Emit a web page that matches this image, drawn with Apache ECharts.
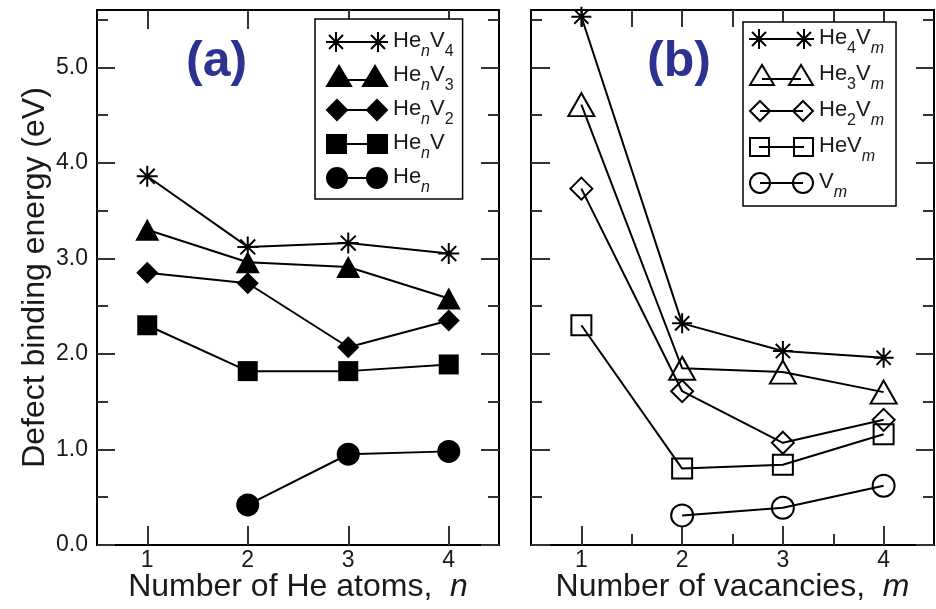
<!DOCTYPE html>
<html>
<head>
<meta charset="utf-8">
<script src="https://cdn.jsdelivr.net/npm/echarts@6/dist/echarts.min.js"></script>
<style>
  html, body { margin: 0; padding: 0; background: #fff; }
  #chart { width: 936px; height: 609px; }
</style>
</head>
<body>
<div id="chart"></div>
<script>
// Shared axis positions
const heAtoms = [1, 2, 3, 4];
const vacancies = [1, 2, 3, 4];
const yTicks = [0, 1, 2, 3, 4, 5];
const yMinorTicks = [0.5, 1.5, 2.5, 3.5, 4.5, 5.5];
const xMinorTicks = [1.5, 2.5, 3.5];
const xTopTicksB = [1, 1.5, 2, 2.5, 3, 3.5, 4];

// (a) binding energy vs number of He atoms n
const heNV4 = [3.86, 3.12, 3.16, 3.05];
const heNV3 = [3.30, 2.96, 2.91, 2.58];
const heNV2 = [2.85, 2.74, 2.07, 2.35];
const heNV1 = [2.30, 1.82, 1.82, 1.89];
const heN   = [null, 0.42, 0.95, 0.98];

// (b) binding energy vs number of vacancies m
const he4Vm = [5.53, 2.32, 2.03, 1.96];
const he3Vm = [4.61, 1.85, 1.81, 1.60];
const he2Vm = [3.73, 1.61, 1.07, 1.31];
const he1Vm = [2.30, 0.80, 0.84, 1.16];
const vM    = [null, 0.31, 0.39, 0.62];

// Series names and their legend labels (rich text subscripts)
const namesA  = ['HenV4', 'HenV3', 'HenV2', 'HenV', 'Hen'];
const labelsA = ['{t|He}{i|n}{t|V}{d|4}', '{t|He}{i|n}{t|V}{d|3}', '{t|He}{i|n}{t|V}{d|2}', '{t|He}{i|n}{t|V}', '{t|He}{i|n}'];
const namesB  = ['He4Vm', 'He3Vm', 'He2Vm', 'HeVm', 'Vm'];
const labelsB = ['{t|He}{d|4}{t|V}{i|m}', '{t|He}{d|3}{t|V}{i|m}', '{t|He}{d|2}{t|V}{i|m}', '{t|HeV}{i|m}', '{t|V}{i|m}'];

const FONT = '"Liberation Sans", Arial, Helvetica, sans-serif';
const STAR = 'path://M0 10L20 10M10 0L10 20M2.9 2.9L17.1 17.1M17.1 2.9L2.9 17.1';

// Legend icons: two markers joined by a line
function starPair(w) {
  const a = 10, b = w - 10;
  return 'path://M0 0M' + w + ' 22' +
    'M0 11L20 11M10 1L10 21M3 4L17 18M17 4L3 18' +
    'M' + (b - 10) + ' 11L' + (b + 10) + ' 11M' + b + ' 1L' + b + ' 21M' + (b - 7) + ' 4L' + (b + 7) + ' 18M' + (b + 7) + ' 4L' + (b - 7) + ' 18' +
    'M' + a + ' 11L' + b + ' 11';
}
function triPair(w) {
  return 'path://M0 0M' + w + ' 22' +
    'M1 21L13 1L25 21Z' +
    'M' + (w - 25) + ' 21L' + (w - 13) + ' 1L' + (w - 1) + ' 21Z' +
    'M13 15L' + (w - 13) + ' 15';
}
function diaPair(w) {
  return 'path://M0 0M' + w + ' 22' +
    'M1 11L11 1L21 11L11 21Z' +
    'M' + (w - 21) + ' 11L' + (w - 11) + ' 1L' + (w - 1) + ' 11L' + (w - 11) + ' 21Z' +
    'M11 11L' + (w - 11) + ' 11';
}
function sqPair(w) {
  return 'path://M0 0M' + w + ' 22' +
    'M1 2H20V20H1Z' +
    'M' + (w - 20) + ' 2H' + (w - 1) + 'V20H' + (w - 20) + 'Z' +
    'M10 11L' + (w - 10) + ' 11';
}
function circPair(w) {
  return 'path://M0 0M' + w + ' 22' +
    'M1 11A10 10 0 1 1 21 11A10 10 0 1 1 1 11Z' +
    'M' + (w - 21) + ' 11A10 10 0 1 1 ' + (w - 1) + ' 11A10 10 0 1 1 ' + (w - 21) + ' 11Z' +
    'M11 11L' + (w - 11) + ' 11';
}

const iconW_A = 62, iconW_B = 65;
const iconsA = [starPair(iconW_A), triPair(iconW_A), diaPair(iconW_A), sqPair(iconW_A), circPair(iconW_A)];
const iconsB = [starPair(iconW_B), triPair(iconW_B), diaPair(iconW_B), sqPair(iconW_B), circPair(iconW_B)];

const symbolsA = [STAR, 'triangle', 'diamond', 'rect', 'circle'];
const sizesA = [21, [24, 22], 22, 20, 23];
const symbolsB = [STAR, 'triangle', 'diamond', 'rect', 'circle'];
const sizesB = [20, [26, 23], 22, 20, 22];

function pts(xs, ys) {
  return xs.map((x, i) => (ys[i] == null ? null : [x, ys[i]])).filter(Boolean);
}

const filled = { color: '#000', borderColor: '#000', borderWidth: 0 };
const starStyle = { color: '#000', borderColor: '#000', borderWidth: 2 };
const hollow = { color: 'rgba(0,0,0,0)', borderColor: '#000', borderWidth: 2 };

const seriesA = [heNV4, heNV3, heNV2, heNV1, heN].map((ys, k) => ({
  name: namesA[k], type: 'line', xAxisIndex: 0, yAxisIndex: 0,
  data: pts(heAtoms, ys), symbol: symbolsA[k], symbolSize: sizesA[k],
  itemStyle: k === 0 ? starStyle : filled,
  lineStyle: { color: '#000', width: 2 }, z: 3
}));
const seriesB = [he4Vm, he3Vm, he2Vm, he1Vm, vM].map((ys, k) => ({
  name: namesB[k], type: 'line', xAxisIndex: 2, yAxisIndex: 4,
  data: pts(vacancies, ys), symbol: symbolsB[k], symbolSize: sizesB[k],
  itemStyle: k === 0 ? starStyle : hollow,
  lineStyle: { color: '#000', width: 2 }, z: 3
}));

const axisLine = { show: true, onZero: false, lineStyle: { color: '#000', width: 2 } };
const tickLine = { color: '#333', width: 2 };
const tickFont = { fontFamily: FONT, fontSize: 23, color: '#1a1a1a' };
const nameFont = { fontFamily: FONT, fontSize: 32, color: '#1a1a1a',
  rich: { i: { fontFamily: FONT, fontSize: 32, fontStyle: 'italic', color: '#1a1a1a' } } };

function xAxisDef(grid, pos, ticks, len, labels, name) {
  return {
    gridIndex: grid, type: 'value', min: 0.5, max: 4.5, position: pos,
    axisLine: axisLine,
    axisTick: { show: true, inside: true, length: len, customValues: ticks, lineStyle: tickLine },
    axisLabel: labels ? Object.assign({ customValues: labels, margin: 4 }, tickFont) : { show: false },
    splitLine: { show: false },
    name: name || '', nameLocation: 'middle', nameGap: 26, nameMoveOverlap: false,
    nameTextStyle: nameFont
  };
}
function yAxisDef(grid, pos, ticks, len, labels, name) {
  return {
    gridIndex: grid, type: 'value', min: 0, max: 5.6, position: pos,
    axisLine: axisLine,
    axisTick: { show: true, inside: true, length: len, customValues: ticks, lineStyle: tickLine },
    axisLabel: labels ? Object.assign({ customValues: labels, margin: 9, formatter: v => v.toFixed(1) }, tickFont) : { show: false },
    splitLine: { show: false },
    name: name || '', nameLocation: 'middle', nameGap: 46, nameMoveOverlap: false,
    nameTextStyle: nameFont
  };
}

const legendRich = {
  t: { fontFamily: FONT, fontSize: 22, color: '#1a1a1a', lineHeight: 24, verticalAlign: 'top' },
  d: { fontFamily: FONT, fontSize: 16, color: '#1a1a1a', lineHeight: 16, verticalAlign: 'top', padding: [14, 0, 0, 0] },
  i: { fontFamily: FONT, fontSize: 16, fontStyle: 'italic', color: '#1a1a1a', lineHeight: 16, verticalAlign: 'top', padding: [14, 0, 0, 0] }
};

function legendDef(names, labels, icons, hollowIcons, left, top, w, gap, padding) {
  return {
    orient: 'vertical', left: left, top: top, itemWidth: w, itemHeight: 22, itemGap: gap,
    padding: padding, borderColor: '#000', borderWidth: 1.5, backgroundColor: '#fff',
    selectedMode: false, align: 'left',
    data: names.map((n, k) => ({
      name: n, icon: icons[k],
      itemStyle: (hollowIcons && k > 0)
        ? { color: 'rgba(0,0,0,0)', borderColor: '#000', borderWidth: 2 }
        : { color: '#000', borderColor: '#000', borderWidth: 2 }
    })),
    formatter: n => labels[names.indexOf(n)],
    textStyle: { rich: legendRich }
  };
}

const chart = echarts.init(document.getElementById('chart'), null, { renderer: 'canvas' });
chart.setOption({
  animation: false,
  backgroundColor: '#fff',
  title: [
    { text: '(a)', left: 186, top: 37, padding: 0,
      textStyle: { fontFamily: FONT, fontSize: 50, fontWeight: 'bold', color: '#2e3192' } },
    { text: '(b)', left: 647, top: 37, padding: 0,
      textStyle: { fontFamily: FONT, fontSize: 50, fontWeight: 'bold', color: '#2e3192' } }
  ],
  grid: [
    { left: 97, top: 10, width: 402, height: 535, outerBoundsMode: 'none' },
    { left: 531, top: 10, width: 403, height: 535, outerBoundsMode: 'none' }
  ],
  xAxis: [
    xAxisDef(0, 'bottom', heAtoms, 19, heAtoms, 'Number of He atoms,  {i|n}'),
    xAxisDef(0, 'top', heAtoms, 19, null),
    xAxisDef(1, 'bottom', vacancies, 19, vacancies, 'Number of vacancies,  {i|m}'),
    xAxisDef(1, 'bottom', xMinorTicks, 11, null),
    xAxisDef(1, 'top', xTopTicksB, 17, null)
  ],
  yAxis: [
    yAxisDef(0, 'left', yTicks, 18, yTicks, 'Defect binding energy (eV)'),
    yAxisDef(0, 'left', yMinorTicks, 11, null),
    yAxisDef(0, 'right', yTicks, 18, null),
    yAxisDef(0, 'right', yMinorTicks, 11, null),
    yAxisDef(1, 'left', yTicks, 19, null),
    yAxisDef(1, 'left', yMinorTicks, 11, null),
    yAxisDef(1, 'right', yTicks, 18, null),
    yAxisDef(1, 'right', yMinorTicks, 11, null)
  ],
  legend: [
    legendDef(namesA, labelsA, iconsA, false, 315, 19, iconW_A, 4, [11, 9, 3, 10]),
    legendDef(namesB, labelsB, iconsB, true, 743, 22, iconW_B, 6, [5, 12, 5, 5])
  ],
  series: seriesA.concat(seriesB)
});
</script>
</body>
</html>
